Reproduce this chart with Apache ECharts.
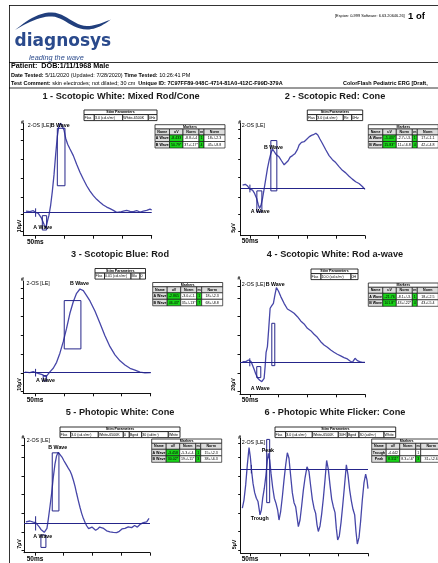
<!DOCTYPE html>
<html><head><meta charset="utf-8">
<script src="https://cdn.jsdelivr.net/npm/echarts@6.0.0/dist/echarts.min.js"></script>
<style>html,body{margin:0;padding:0;background:#fff;overflow:hidden}#c{width:438px;height:563px}</style>
</head><body><div id="c"></div>
<script>
// ---------------- DATA ----------------
const xTicks = [0, 50, 100, 150, 200];
const titles = ['1 - Scotopic White: Mixed Rod/Cone', '2 - Scotopic Red: Cone', '3 - Scotopic Blue: Rod',
  '4 - Scotopic White: Rod a-wave', '5 - Photopic White: Cone', '6 - Photopic White Flicker: Cone'];
const unitLabels = ['10µV', '5µV', '10µV', '20µV', '7µV', '5µV'];
const channelLabel = '2-OS [LE]';

// traces: time (ms) and amplitude (µV)
const p1T = [-15.4,-8.6,-2.9,1.1,5.7,11.4,16,18.3,21.1,24,26.9,29.7,32.6,35.4,38.3,41.1,44,46.9,49.7,52.6,56,60,65.7,71.4,77.1,82.9,88.6,94.3,100,105.7,111.4,117.1,122.9,128.6,134.3,140,145.7,151.4,157.1,162.9,168.6,174.3,180,185.7,191.4,197.1,200];
const p1V = [0.7,0.4,0.9,0,-0.5,-3.3,-6.9,-8.4,-5.1,-1.5,4,11.3,20.4,31.3,41.3,47.3,48.7,48,44.9,40.4,37.1,34.5,30.9,26.2,21.8,18,14.5,11.6,9.1,7.1,5.5,4,2.9,2,1.1,0,0.2,0.7,1.1,0.5,0.4,0.9,0.2,0.7,1.1,1.8,1.3];
const p2T = [-12.7,-8.1,-4,0,4.6,8.1,11.6,14.5,16.8,19.1,22,24.9,27.7,30.6,33.5,36.4,39.3,42.2,45.1,48,50.9,54.9,59.5,62.4,66.5,69.9,74,78.6,82.7,85.5,89.6,94.2,98.3,102.9,106.9,110.4,114.5,118,121.4,126,131.8,137.6,143.4,149.1,154.9,160.7,166.5,172.3,178,183.8,189.6,195.4,200];
const p2V = [0.9,1.1,0.6,-0.2,-0.5,-1.4,-2.7,-4.4,-5.5,-4.7,-2.7,0,2.7,5.5,7.7,9.5,10.7,10.3,9.3,9.4,8.5,7.5,6.4,6.6,7.5,8.5,8.9,9.5,10.6,11.8,12.5,12.7,13.3,14,14.4,14.6,15,14.5,13.5,12.2,10.5,8.9,7.8,7,5.9,4.9,4.2,3.3,2.5,1.8,1.3,0.5,-0.3];
const p3T = [-17.3,-8.6,-2.9,1.2,6.9,12.7,16.1,19,21.9,25.9,31.7,37.5,43.2,49,54.8,60.5,66.3,72,77.8,83.6,89.3,95.1,103.7,112.4,121,129.7,138.3,147,155.6,164.3,172.9,181.6,190.2,200];
const p3V = [0.2,0,0.5,0,-0.5,-1.1,-2,-2.3,-1.3,0.4,2.3,5.5,10.4,16.6,23.8,31.8,38,42.5,44.8,43.9,41.3,38.4,33,26.4,19.8,13.9,9.5,6.3,4.1,2.3,1.3,0.2,-0.2,0];
const p4T = [-12.7,-6.9,-2.3,0,2.3,4.6,7.5,10.4,13.9,17.3,20.8,23.1,24.9,26.6,28.3,30.6,32.9,35.3,38.2,41,43.4,46.2,49.7,53.8,59.5,65.3,71.1,76.9,82.7,88.4,94.2,100,105.8,111.6,117.3,123.1,128.9,134.7,140.5,146.2,152,157.8,163.6,169.4,174,178,182.7,186.7,190.8,195.4,200];
const p4V = [0.7,0.7,2.5,3.6,0.7,-2.9,-7.5,-12.5,-17.1,-19.3,-20.7,-22.1,-17.1,-4.6,10.7,16.8,36.4,57.9,60.7,63.2,71.4,80,76.4,70.4,63.2,57.1,55,52.5,48.9,44.3,41.1,36.4,33.9,30,26.8,22.1,18.6,16.1,13.2,10.7,8.6,6.8,5,3.6,1.4,0,4.3,1.8,0.7,0,0];
const p5T = [-15.7,-8.7,-2.9,1.2,4.6,7.5,10.4,13.3,16.2,18.6,20.9,23.2,26.1,29,31.9,34.8,37.7,40.6,43.5,47,50.4,53.9,57.4,60.9,63.8,66.7,69.6,72.5,75.4,78.3,81.2,84.1,87,89.9,93.3,96.2,99.1,102,105.5,109,112.5,115.9,119.4,124.6,130.4,136.2,142,146.7,151.3,156.5,162.3,168.1,173.3,178,182.6,188.4,194.2,198.3];
const p5V = [0.6,0.9,0.5,0.3,-0.3,-1.3,-2.3,-3,-3.4,-3.3,-1.9,1.5,6.3,11.3,17.4,22.4,25.6,26.9,26.5,25.1,23.7,22.4,21.1,19.9,18.4,16.4,14.1,11.3,8.6,6.1,3.8,1.9,0.4,-0.9,-2,-2.3,-1.4,-1.9,-2.6,-2.1,-1.4,-1.1,-1.9,-2.8,-3.2,-3.4,-3.5,-3,-2.1,-1.9,-1.3,-1.6,-0.8,-1.4,-0.4,0.3,0.6,1.9];
const p6T = [-14.2,-11.4,-8.5,-5.7,-2.8,-0.6,1.7,4,6.8,9.7,12.5,14.2,15.9,18.2,20.5,23.3,26.1,28.4,30.1,32.4,34.7,37.5,40.3,43.2,46,48.3,51.1,54,56.8,59.7,62.5,65.3,68.2,71,73.9,76.7,79,81.3,84.1,86.9,89.8,92.6,96,99.4,102.3,105.1,108,110.8,113.1,115.3,118.2,121,123.9,126.7,129.5,132.4,135.2,138.1,140.9,143.8,146,148.3,151.1,154,156.8,159.7,163.1,165.9,168.8,171.6,174.4,177.3,179.5,181.8,184.7,187.5,190.3,193.2,196,198.3,200];
const p6V = [-10.6,-8.4,-4.3,1.1,5.8,3.3,-0.7,-3.9,-6.4,-7.9,-8.8,-10.6,-12.4,-11.1,-7.9,-5.2,-1.6,2.4,4.2,2.4,-1.2,-5,-7.9,-9.3,-11.1,-13.8,-11.5,-7.5,-3,1.1,4.4,2.9,-1.9,-6.4,-9.1,-10.2,-12.9,-15.6,-13.8,-10,-5.7,-2.5,0.6,-0.7,-4.6,-8.2,-10.6,-12,-15.1,-16.9,-15.4,-12.2,-7.9,-3,2.3,-0.1,-4.3,-8.2,-10.2,-11.8,-16,-19.2,-18.1,-14.5,-10,-5,1.1,-1.6,-5.7,-8.6,-10.9,-12.4,-16.9,-20.3,-18.5,-14,-8.4,-3.7,-1.4,-3,-5.3];

// marker windows [t1, t2, v1, v2]
const p1Boxes = [[38.3, 51.4, 14.5, 45.8], [12.6, 20, -1.8, -9.6]];
const p2Boxes = [[36.4, 46.8, -0.7, 13], [12.1, 20.8, -0.7, -6.4]];
const p3Boxes = [[50.7, 79.5, 12.7, 38.6], [14.4, 20.2, -1.6, -4.5]];
const p4Boxes = [[38.2, 43.4, -3.6, 41.8], [12.1, 19.1, -4.6, -16.4]];
const p5Boxes = [[30.1, 41.7, 4.7, 26.7], [10.4, 19.1, -4.4, -9.1]];
const p6Boxes = [[27.3, 32.4, -9.1, 8]];
// stimulus cursor [t, vTop, vBottom]
const p1Cursor = [1.1, 2.2, -2.4];
const p2Cursor = [0, 1, -1.1];
const p3Cursor = [1.2, 2, -2.1];
const p4Cursor = [0, 4.3, -4.3];
const p5Cursor = [1.2, 2.7, -2.7];
const p6Cursor = [1.1, 1.1, -1.2];
// y tick values (µV)
const p1YTicks = [-10.5, -1.1, 8.5, 18.5, 29.1, 39.5, 45.3];
const p2YTicks = [-11.8, -7.1, -2.3, 2.9, 8, 13.5, 16.1];
const p3YTicks = [-10.2, -0.4, 9.8, 19.8, 30, 39.8, 45.2];
const p4YTicks = [-31.4, -11.8, 8.6, 28.6, 48.9, 68.6, 81.1];
const p5YTicks = [-10.1, -3.2, 3.8, 11, 17.9, 25, 29.6];
const p6YTicks = [-21.9, -16.9, -12, -6.8, -1.9, 3.2, 6.9];

// tables
const stim1 = ['Flash', '3.0 (cd.s/m²)', 'White-6500K', '0Hz'];
const stim2 = ['Flash', '3.0 (cd.s/m²)', 'Red', '0Hz'];
const stim3 = ['Flash', '0.01 (cd.s/m²)', 'Blue', '0Hz'];
const stim4 = ['Flash', '10.0 (cd.s/m²)', '0Hz'];
const stim5 = ['Flash', '3.0 (cd.s/m²)', 'White-6500K', '0Hz', 'Bgnd', '30 (cd/m²)', 'White'];
const stim6 = ['Flash', '3.0 (cd.s/m²)', 'White-6500K', '30Hz', 'Bgnd', '30 (cd/m²)', 'White'];
const markerHeader = ['Name', 'uV', 'Norm', 'ms', 'Norm'];
const markers1 = [['A Wave', '-8.433', '-8.8+/-4', '14', '18+/-2.3'], ['B Wave', '50.79*', '37+/-17*', '43', '45+/-8.8']];
const markers2 = [['A Wave', '-5.437', '-2.7+/-3.1', '17', '17+/-1.1'], ['B Wave', '15.83*', '11+/-6.8*', '40', '42+/-4.8']];
const markers3 = [['A Wave', '-2.865', '-3.0+/-1.5', '18', '18+/-2.3'], ['B Wave', '46.43*', '35+/-13*', '77', '68+/-8.8']];
const markers4 = [['A Wave', '-21.76', '-8.1+/-3.5', '17', '18+/-2.5'], ['B Wave', '101.8*', '43+/-22*', '44', '43+/-5.4']];
const markers5 = [['A Wave', '-3.458', '-5.3+/-4.2', '13', '15+/-2.3'], ['B Wave', '30.02*', '19+/-11*', '38', '38+/-6.3']];
const markers6 = [['Trough', '-4.442', '', '17', ''], ['Peak', '8.311*', '8.3+/-6*', '30', '31+/-2.6']];
const markerGreen6 = [false, true];

// ---------------- LAYOUT / STYLE ----------------
const FF = '"Liberation Sans", Arial, sans-serif';
const TRACE = '#4646a8', BASE = '#25258a', BOX = '#25258a';
const panels = [
  {t:p1T, v:p1V, boxes:p1Boxes, cur:p1Cursor, yt:p1YTicks, g:[23.3,123.3,128.4,112.4], xr:[-20,200], yr:[-12.7,48.5],
   title:[121,96], stim:stim1, sb:[84,94.3,122.7,148.3,157], sy:110, mk:markers1, mxy:[155,124.7],
   labs:[[channelLabel,27.7,125.7],['B Wave',50.7,125.7],['A Wave',33.3,227.7]], ms:[27,242], unit:[20,226]},
  {t:p2T, v:p2V, boxes:p2Boxes, cur:p2Cursor, yt:p2YTicks, g:[240.7,123.3,124.3,112.4], xr:[-16,200], yr:[-12.9,17.7],
   title:[335,96], stim:stim2, sb:[307.3,316.7,343.3,351.7,362.7], sy:110, mk:markers2, mxy:[368.3,124.7],
   labs:[[channelLabel,241.7,125.7],['B Wave',264,147.3],['A Wave',250.7,211.7]], ms:[241.7,241.7], unit:[234,228]},
  {t:p3T, v:p3V, boxes:p3Boxes, cur:p3Cursor, yt:p3YTicks, g:[23.3,281,127.4,112.3], xr:[-20,200], yr:[-11.1,49.1],
   title:[120,254], stim:stim3, sb:[95,104.5,131,140,145.5], sy:268.5, mk:markers3, mxy:[152.7,282.5],
   labs:[[channelLabel,26.5,283.3],['B Wave',70,283.3],['A Wave',36,381]], ms:[26.7,400], unit:[20,384.5]},
  {t:p4T, v:p4V, boxes:p4Boxes, cur:p4Cursor, yt:p4YTicks, g:[240,280,125,114.3], xr:[-17,200], yr:[-34.3,88.2],
   title:[335,254], stim:stim4, sb:[311,321,351,358], sy:269, mk:markers4, mxy:[368.3,283],
   labs:[[channelLabel,241.7,284.3],['B Wave',265.7,284.3],['A Wave',250.7,389]], ms:[241.7,400], unit:[234,384.5]},
  {t:p5T, v:p5V, boxes:p5Boxes, cur:p5Cursor, yt:p5YTicks, g:[24,438.3,126,114.4], xr:[-19,200], yr:[-11.1,32.2],
   title:[120,412.7], stim:stim5, sb:[60,70.7,98.3,123.3,129.3,141.7,168.3,180], sy:427, mk:markers5, mxy:[151.7,439],
   labs:[[channelLabel,26.7,440.7],['B Wave',48.3,447.7],['A Wave',33.3,536.7]], ms:[26.7,559.3], unit:[20,544]},
  {t:p6T, v:p6V, boxes:p6Boxes, cur:p6Cursor, yt:p6YTicks, g:[240.7,438.3,127.3,115], xr:[-17,200], yr:[-22.8,8.3],
   title:[335,412.7], stim:stim6, sb:[275,285.7,312.3,338.3,347.3,359,384,395.7], sy:427, mk:markers6, green:markerGreen6, mxy:[371.7,439],
   labs:[[channelLabel,241.7,442.7],['Peak',261.7,450.7],['Trough',250.7,519]], ms:[241.7,559.3], unit:[235,544.5]}
];

function txt(x, y, text, o) {
  o = o || {};
  const st = {text: text, fontSize: o.fs || 5, fontFamily: o.ff || FF, fontWeight: o.fw || 'normal',
    fontStyle: o.it ? 'italic' : 'normal', fill: o.c || '#000', align: o.al || 'left', verticalAlign: o.va || 'middle'};
  if (o.rich) st.rich = o.rich;
  if (o.w) { st.width = o.w; st.overflow = 'truncate'; st.ellipsis = ''; }
  return {type: 'text', x: x, y: y, rotation: o.rot || 0, silent: true, z: 100, style: st};
}
function rect(x, y, w, h, fill, lw) {
  return {type: 'rect', silent: true, z: 90, shape: {x: x, y: y, width: w, height: h},
    style: {fill: fill || '#fff', stroke: '#1a1a1a', lineWidth: lw || 0.6}};
}
function line(x1, y1, x2, y2, lw, c) {
  return {type: 'line', silent: true, z: 90, shape: {x1: x1, y1: y1, x2: x2, y2: y2},
    style: {stroke: c || '#000', lineWidth: lw || 0.8}};
}
// sample a chain of cubic bezier segments into polygon points (logo drawing only)
function bezierPoly(start, segs) {
  const pts = [start.slice()];
  let p0 = start;
  segs.forEach(function (s) {
    for (let k = 1; k <= 12; k++) {
      const u = k / 12, a = (1 - u) * (1 - u) * (1 - u), b = 3 * (1 - u) * (1 - u) * u, c = 3 * (1 - u) * u * u, d = u * u * u;
      pts.push([a * p0[0] + b * s[0] + c * s[2] + d * s[4], a * p0[1] + b * s[1] + c * s[3] + d * s[5]]);
    }
    p0 = [s[4], s[5]];
  });
  return pts;
}

const G = [];
G.push(line(9, 5.5, 438, 5.5, 0.8));
G.push(line(9.5, 5, 9.5, 563, 0.8));
G.push(line(9, 62.5, 438, 62.5, 0.8));
G.push(line(9, 88, 438, 88, 0.8));
G.push({type: 'polygon', silent: true, z: 95, shape: {points: bezierPoly([15, 30], [
  [25,22, 38,12, 52,12.5], [66,13, 74,26, 87,26], [96,26, 104,22, 111,19.5],
  [104,24.5, 96,29.5, 87,29.5], [72,29.5, 64,17, 52,16.5], [40,16, 27,23, 15,30]])},
  style: {fill: '#213f7d'}});
G.push(txt(14.5, 41.5, 'diagnosys', {fs: 17, fw: 'bold', ff: '"DejaVu Sans", Verdana, sans-serif', c: '#2a4a8c'}));
G.push(txt(29, 57.5, 'leading the wave', {fs: 7.3, it: true, c: '#2a4a8c'}));
G.push(txt(335, 16, '[Espion: 0-999 Software: 6.63.20646.26]', {fs: 3.9}));
G.push(txt(408, 16, '1 of', {fs: 9.5, fw: 'bold'}));
G.push(txt(11, 66, 'Patient:  DOB:1/11/1968 Male', {fs: 7.2, fw: 'bold'}));
const rb = {b: {fontWeight: 'bold', fontSize: 5.5, fontFamily: FF}, n: {fontWeight: 'normal', fontSize: 5.5, fontFamily: FF}};
G.push(txt(11, 75, '{b|Date Tested:}{n| 5/11/2020 (Updated: 7/28/2020) }{b|Time Tested:}{n| 10:26:41 PM}', {fs: 5.5, rich: rb}));
G.push(txt(11, 83.3, '{b|Test Comment:}{n| skin electrodes; not dilated; 30 cm  }{b|Unique ID: 7C97FF89-048C-4714-81A0-412C-F99D-379A}', {fs: 5.5, rich: rb}));
G.push(txt(343, 83.3, 'ColorFlash Pediatric ERG [Draft,', {fs: 5.5, fw: 'bold'}));

panels.forEach(function (p, i) {
  G.push(txt(p.title[0], p.title[1], titles[i], {fs: 9.2, fw: 'bold', al: 'center', c: '#1a1a1a'}));
  const b = p.sb, sy = p.sy, x0 = b[0], x1 = b[b.length - 1];
  G.push(rect(x0, sy, x1 - x0, 4.6, '#fff', 0.9));
  G.push(txt((x0 + x1) / 2, sy + 2.4, 'Stim Parameters', {fs: 3.6, fw: 'bold', al: 'center'}));
  for (let k = 0; k < b.length - 1; k++) {
    G.push(rect(b[k], sy + 4.6, b[k + 1] - b[k], 6, '#fff', 0.9));
    G.push(txt(b[k] + 0.6, sy + 7.7, p.stim[k], {fs: 3.6, w: b[k + 1] - b[k] - 1}));
  }
  const mw = [14.5, 13.5, 16, 5, 21], mx = p.mxy[0], my = p.mxy[1];
  const tw = mw.reduce(function (a, c) { return a + c; }, 0);
  G.push(rect(mx, my, tw, 4.3, '#fff', 0.8));
  G.push(txt(mx + tw / 2, my + 2.25, 'Markers', {fs: 3.6, fw: 'bold', al: 'center'}));
  let cx = mx;
  for (let k = 0; k < 5; k++) {
    G.push(rect(cx, my + 4.3, mw[k], 6, '#dcdcdc', 0.7));
    G.push(txt(cx + mw[k] / 2, my + 7.4, markerHeader[k], {fs: 3.6, fw: 'bold', al: 'center', w: mw[k] - 0.6}));
    cx += mw[k];
  }
  p.mk.forEach(function (row, r) {
    const ry = my + 10.3 + r * 6.5;
    const green = p.green ? p.green[r] : true;
    let cx2 = mx;
    for (let k = 0; k < 5; k++) {
      let fill = '#fff';
      if (k === 0) fill = '#dcdcdc';
      if ((k === 1 || k === 3) && green) fill = '#19d419';
      G.push(rect(cx2, ry, mw[k], 6.5, fill, 0.7));
      G.push(txt(cx2 + mw[k] / 2, ry + 3.35, row[k], {fs: 3.6, fw: k === 0 ? 'bold' : 'normal', al: 'center', w: mw[k] - 0.6}));
      cx2 += mw[k];
    }
  });
  G.push(txt(p.g[0] - 1, p.g[1] - 1, '#', {fs: 5, fw: 'bold', al: 'center'}));
  p.labs.forEach(function (l) { G.push(txt(l[1], l[2], l[0], {fs: 5.3, fw: l[0] === channelLabel ? 'normal' : 'bold'})); });
  G.push(txt(p.ms[0], p.ms[1], '50ms', {fs: 6.5, fw: 'bold'}));
  G.push(txt(p.unit[0], p.unit[1], unitLabels[i], {fs: 5.3, fw: 'bold', al: 'center', rot: Math.PI / 2}));
});

function boxItem(params, api) {
  const a = api.coord([api.value(0), api.value(2)]);
  const b = api.coord([api.value(1), api.value(3)]);
  return {type: 'rect', shape: {x: Math.min(a[0], b[0]), y: Math.min(a[1], b[1]), width: Math.abs(b[0] - a[0]), height: Math.abs(b[1] - a[1])},
    style: {fill: 'none', stroke: BOX, lineWidth: 1}};
}
function cursorItem(params, api) {
  const a = api.coord([api.value(0), api.value(1)]);
  const b = api.coord([api.value(0), api.value(2)]);
  return {type: 'line', shape: {x1: a[0], y1: a[1], x2: b[0], y2: b[1]}, style: {stroke: BOX, lineWidth: 1}};
}

const grid = [], xAxis = [], yAxis = [], series = [];
panels.forEach(function (p, i) {
  grid.push({left: p.g[0], top: p.g[1], width: p.g[2], height: p.g[3], containLabel: false, outerBoundsMode: 'none'});
  xAxis.push({type: 'value', gridIndex: i, min: p.xr[0], max: p.xr[1],
    axisLine: {show: true, onZero: false, lineStyle: {color: '#111', width: 1}},
    axisTick: {show: true, customValues: xTicks, length: 3, inside: false, lineStyle: {color: '#111', width: 1}},
    axisLabel: {show: false}, splitLine: {show: false}});
  yAxis.push({type: 'value', gridIndex: i, min: p.yr[0], max: p.yr[1],
    axisLine: {show: true, onZero: false, lineStyle: {color: '#111', width: 1}},
    axisTick: {show: true, customValues: p.yt, length: 2.5, inside: false, lineStyle: {color: '#111', width: 1}},
    axisLabel: {show: false}, splitLine: {show: false}});
  series.push({type: 'line', xAxisIndex: i, yAxisIndex: i, data: p.t.map(function (t, k) { return [t, p.v[k]]; }),
    showSymbol: false, symbol: 'none', silent: true, z: 3, lineStyle: {color: TRACE, width: 1.3},
    markLine: {silent: true, symbol: ['none', 'none'], label: {show: false}, animation: false,
      lineStyle: {color: BASE, width: 1.1, type: 'solid'}, emphasis: {disabled: true}, data: [{yAxis: 0}]}});
  series.push({type: 'custom', xAxisIndex: i, yAxisIndex: i, data: p.boxes, renderItem: boxItem, silent: true, z: 4,
    encode: {x: [0, 1], y: [2, 3]}, clip: false});
  series.push({type: 'custom', xAxisIndex: i, yAxisIndex: i, data: [p.cur], renderItem: cursorItem, silent: true, z: 4,
    encode: {x: 0, y: [1, 2]}, clip: false});
});

const chart = echarts.init(document.getElementById('c'), null, {renderer: 'canvas'});
chart.setOption({animation: false, backgroundColor: '#fff', grid: grid, xAxis: xAxis, yAxis: yAxis, series: series, graphic: {elements: G}});
</script></body></html>
